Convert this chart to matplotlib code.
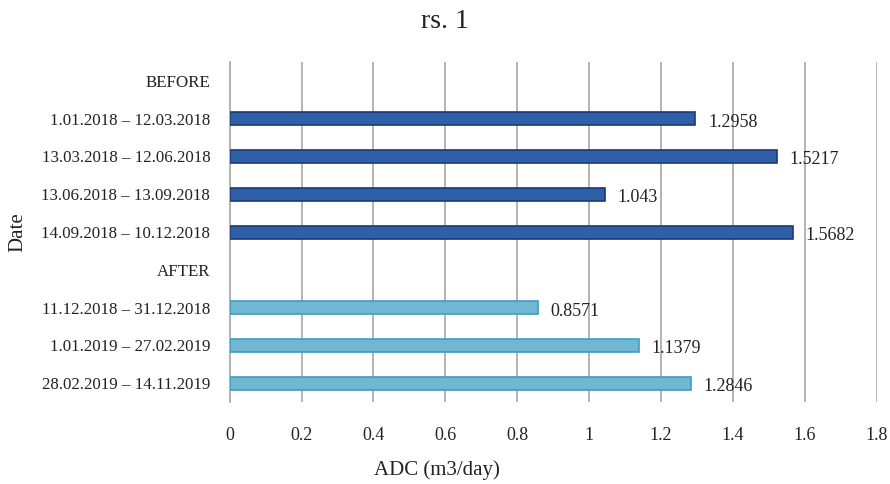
import matplotlib
matplotlib.use('Agg')
import numpy as np
import matplotlib.pyplot as plt

plt.rcParams['font.family'] = ['Liberation Serif', 'DejaVu Serif']

# categories top to bottom; None marks the group header rows
categories = ["BEFORE",
              "1.01.2018 \u2013 12.03.2018",
              "13.03.2018 \u2013 12.06.2018",
              "13.06.2018 \u2013 13.09.2018",
              "14.09.2018 \u2013 10.12.2018",
              "AFTER",
              "11.12.2018 \u2013 31.12.2018",
              "1.01.2019 \u2013 27.02.2019",
              "28.02.2019 \u2013 14.11.2019"]
values = [None, 1.2958, 1.5217, 1.043, 1.5682, None, 0.8571, 1.1379, 1.2846]
value_labels = ["", "1.2958", "1.5217", "1.043", "1.5682", "", "0.8571", "1.1379", "1.2846"]
group = ["", "before", "before", "before", "before", "", "after", "after", "after"]

face = {"before": "#2F5FA7", "after": "#70B8D2"}
edge = {"before": "#1B3A78", "after": "#3E9CC0"}

fig = plt.figure(figsize=(8.9, 4.84), dpi=100)
ax = fig.add_axes([0.258, 0.169, 0.727, 0.703])

n = len(categories)
ypos = np.arange(n)[::-1]
for y, v, g, lab in zip(ypos, values, group, value_labels):
    if v is None:
        continue
    ax.barh(y, v, height=0.34, color=face[g], edgecolor=edge[g], linewidth=1.2, zorder=3)
    ax.annotate(lab, (v, y), xytext=(9, -2.5), textcoords='offset points',
                ha='left', va='center', fontsize=13, color='#222222')

ax.set_xlim(0, 1.8)
ax.set_ylim(-0.5, n - 0.5)
ax.set_xticks(np.arange(0, 1.81, 0.2))
ax.set_xticklabels(["0", "0.2", "0.4", "0.6", "0.8", "1", "1.2", "1.4", "1.6", "1.8"])
ax.set_yticks(ypos)
ax.set_yticklabels(categories)
ax.tick_params(axis='both', length=0, colors='#222222')
ax.tick_params(axis='x', pad=18, labelsize=13)
ax.tick_params(axis='y', pad=14, labelsize=12.2)
ax.grid(axis='x', color='#B3B3B3', linewidth=1.4, zorder=0)
for s in ['top', 'right', 'bottom']:
    ax.spines[s].set_visible(False)
ax.spines['left'].set_color('#B3B3B3')
ax.spines['left'].set_linewidth(1.4)

fig.text(445 / 890, 1 - 22 / 484, "rs. 1", ha='center', va='center', fontsize=20, color='#222222')
fig.text(437 / 890, 1 - 470 / 484, "ADC (m3/day)", ha='center', va='center', fontsize=15, color='#222222')
fig.text(18 / 890, 1 - 232 / 484, "Date", ha='center', va='center', rotation=90, fontsize=15, color='#222222')

plt.savefig("out.png", dpi=100)
